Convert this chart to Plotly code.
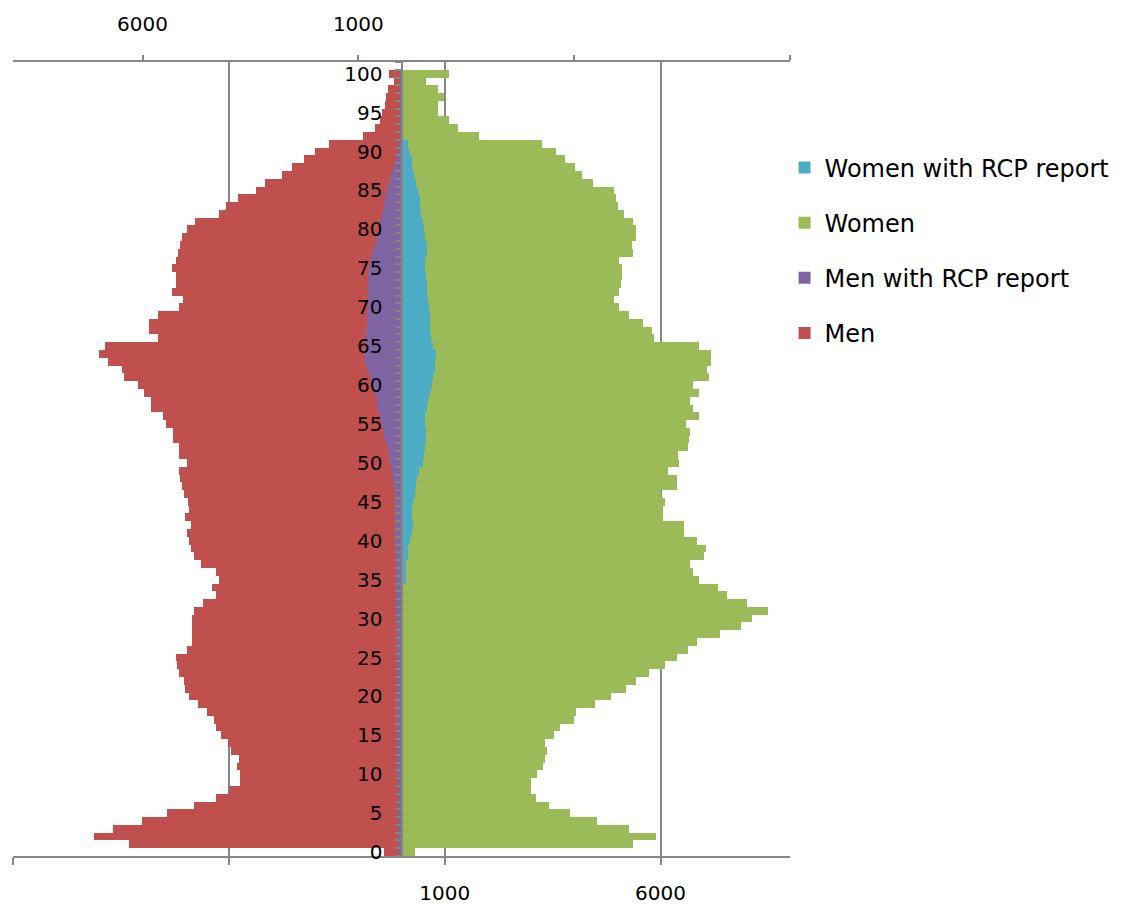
import plotly.graph_objects as go

ages = list(range(0, 101))

men = [416, 6321, 7113, 6690, 6012, 5443, 4804, 4288, 3995, 3749,
       3749, 3803, 3764, 3956, 4010, 4187, 4288, 4342, 4496, 4704,
       4919, 5012, 5035, 5165, 5211, 5226, 4958, 4858, 4858, 4858,
       4843, 4804, 4596, 4288, 4381, 4226, 4288, 4650, 4804, 4880,
       4919, 4958, 4880, 5019, 4919, 4935, 5035, 5088, 5134, 5165,
       4958, 5150, 5150, 5305, 5305, 5458, 5536, 5804, 5804, 5958,
       6113, 6420, 6474, 6805, 7013, 6859, 5635, 5843, 5843, 5635,
       5165, 5073, 5318, 5226, 5226, 5318, 5226, 5173, 5127, 5088,
       4958, 4788, 4226, 4057, 3795, 3380, 3164, 2780, 2533, 2263,
       2010, 1686, 895, 625, 490, 455, 380, 355, 310, 185,
       300]

men_rcp = [60, 90, 90, 90, 90, 90, 90, 90, 90, 90,
           100, 100, 100, 100, 100, 100, 100, 100, 100, 100,
           100, 100, 100, 100, 100, 100, 100, 100, 100, 100,
           130, 130, 130, 130, 130, 130, 130, 130, 130, 130,
           162, 162, 162, 162, 162, 162, 162, 185, 200, 224,
           262, 300, 340, 376, 415, 455, 492, 547, 570, 609,
           663, 724, 778, 855, 878, 855, 840, 824, 808, 793,
           778, 778, 778, 778, 778, 747, 724, 686, 625, 570,
           530, 492, 455, 415, 376, 340, 300, 240, 185, 130,
           70, 50, 30, 25, 25, 20, 20, 20, 20, 15,
           15]

women = [316, 5373, 5897, 5265, 4527, 3895, 3418, 3110, 3010, 3010,
         3148, 3279, 3326, 3372, 3326, 3526, 3680, 3995, 4049, 4473,
         4843, 5204, 5435, 5743, 6113, 6374, 6636, 6843, 7375, 7860,
         8114, 8491, 8014, 7537, 7321, 6898, 6744, 6690, 7013, 7051,
         6836, 6536, 6536, 6051, 6051, 6113, 6012, 6374, 6374, 6166,
         6436, 6413, 6628, 6651, 6690, 6590, 6898, 6744, 6690, 6898,
         6759, 7113, 7067, 7167, 7167, 6898, 5858, 5804, 5589, 5281,
         5027, 4912, 5050, 5081, 5111, 5111, 5027, 5373, 5335, 5435,
         5435, 5373, 5165, 5019, 4958, 4912, 4434, 4180, 4011, 3795,
         3587, 3264, 1801, 1316, 1109, 838, 838, 985, 838, 570,
         1109]

women_rcp = [5, 10, 10, 10, 10, 10, 10, 10, 10, 10,
             10, 10, 10, 10, 10, 10, 10, 10, 10, 10,
             15, 15, 15, 15, 15, 15, 15, 15, 15, 15,
             20, 20, 20, 25, 30, 100, 108, 108, 139, 162,
             200, 239, 262, 239, 239, 277, 308, 339, 370, 416,
             500, 524, 547, 560, 570, 547, 555, 585, 608, 650,
             700, 723, 770, 786, 793, 723, 690, 670, 662, 662,
             630, 624, 590, 585, 570, 547, 547, 585, 585, 547,
             524, 493, 455, 440, 420, 393, 340, 280, 250, 239,
             185, 162, 10, 10, 8, 8, 8, 5, 5, 5,
             5]

bottom_tickvals = [-9000, -4000, 1000, 6000]
bottom_ticktext = ["", "", "1000", "6000"]
top_tickvals = [-6000, -1000, 4000, 9000]
top_ticktext = ["6000", "1000", "", ""]

C_MEN = "#C0504D"
C_MEN_RCP = "#8064A2"
C_WOMEN = "#9BBB59"
C_WOMEN_RCP = "#4BACC6"
GRID = "#868686"
FONT = "DejaVu Sans"

fig = go.Figure()
fig.add_trace(go.Bar(x=[-v for v in men], y=ages, orientation="h", name="Men",
                     marker=dict(color=C_MEN, line=dict(width=0)),
                     legendgroup="m", legendrank=4))
fig.add_trace(go.Bar(x=[-v for v in men_rcp], y=ages, orientation="h", name="Men with RCP report",
                     marker=dict(color=C_MEN_RCP, line=dict(width=0)),
                     legendgroup="mr", legendrank=3))
fig.add_trace(go.Bar(x=women, y=ages, orientation="h", name="Women",
                     marker=dict(color=C_WOMEN, line=dict(width=0)),
                     legendgroup="w", legendrank=2))
fig.add_trace(go.Bar(x=women_rcp, y=ages, orientation="h", name="Women with RCP report",
                     marker=dict(color=C_WOMEN_RCP, line=dict(width=0)),
                     legendgroup="wr", legendrank=1))
fig.add_trace(go.Scatter(x=[None], y=[None], xaxis="x2", yaxis="y", showlegend=False,
                         hoverinfo="skip", mode="markers"))

fig.update_layout(
    width=1106, height=896,
    margin=dict(l=5, r=324, t=54, b=48, autoexpand=False),
    paper_bgcolor="white", plot_bgcolor="white",
    barmode="overlay", bargap=0,
    font=dict(family=FONT, size=20, color="black"),
    showlegend=True,
    legend=dict(x=0.993, y=0.895, xanchor="left", yanchor="top",
                traceorder="grouped", tracegroupgap=21,
                font=dict(family=FONT, size=24, color="black"),
                bgcolor="rgba(0,0,0,0)"),
    xaxis=dict(range=[-9000, 9000], tickmode="array", tickvals=bottom_tickvals,
               ticktext=bottom_ticktext, showgrid=True, gridcolor=GRID, gridwidth=1.5,
               zeroline=False, showline=True, linecolor=GRID, linewidth=1.5,
               ticks="outside", ticklen=7, tickcolor=GRID, tickwidth=1.5,
               ticklabelstandoff=11, anchor="y", fixedrange=True, automargin=False),
    xaxis2=dict(range=[-9000, 9000], overlaying="x", side="top", anchor="y",
                tickmode="array", tickvals=top_tickvals, ticktext=top_ticktext,
                showgrid=False, zeroline=False, showline=True, linecolor=GRID, linewidth=1.5,
                ticks="outside", ticklen=5, tickcolor=GRID, tickwidth=1.5,
                ticklabelstandoff=16, fixedrange=True, automargin=False),
    yaxis=dict(range=[-0.5, 101.5], anchor="free", position=0.5,
               tickmode="linear", tick0=0, dtick=5, ticks="",
               showgrid=False, zeroline=False, showline=True, linecolor=GRID, linewidth=2,
               ticklabelstandoff=14, automargin=False,
               minor=dict(tick0=0.5, dtick=1, ticks="outside", ticklen=6,
                          tickcolor=GRID, tickwidth=1.5, showgrid=False),
               fixedrange=True),
)

fig.write_html("out.html")
